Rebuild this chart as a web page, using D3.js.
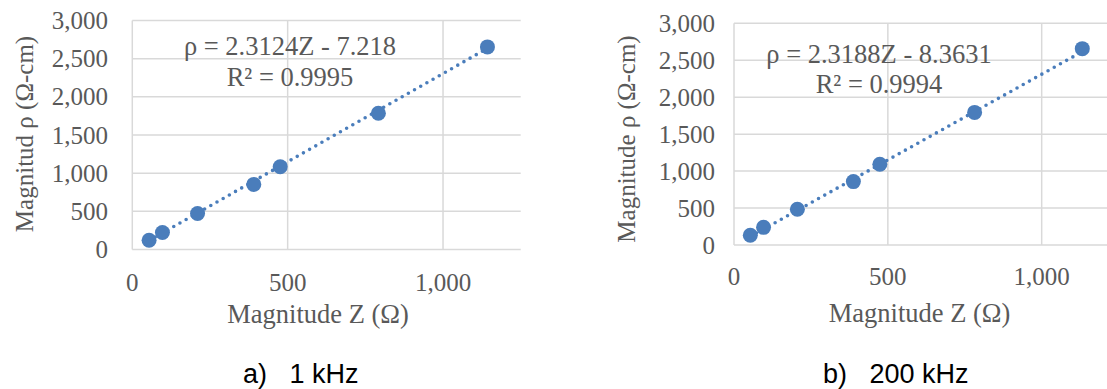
<!DOCTYPE html>
<html>
<head>
<meta charset="utf-8">
<script src="https://cdn.jsdelivr.net/npm/d3@7"></script>
<style>
  html, body { margin: 0; padding: 0; background: #fff; }
  svg { display: block; }
  .serif { font-family: "Times New Roman", "Liberation Serif", serif; fill: #595959; }
  .caption { font-family: Arial, "Liberation Sans", sans-serif; fill: #000; white-space: pre; }
</style>
</head>
<body>
<svg id="chart" width="1107" height="389"></svg>
<script>
// Measured impedance magnitude vs. resistivity magnitude at two frequencies
const zLow = [54, 97, 210, 391, 476, 792, 1143];
const rhoLow = [122, 223, 472, 853, 1085, 1784, 2654];
const zHigh = [53, 96, 206, 388, 474, 782, 1132];
const rhoHigh = [131, 239, 483, 858, 1093, 1794, 2657];

// Linear fits (ρ = slope·Z + intercept)
const fitSlopes = [2.3124, 2.3188];
const fitIntercepts = [-7.218, -8.3631];
const fitLabels = ["ρ = 2.3124Z - 7.218", "ρ = 2.3188Z - 8.3631"];
const r2Labels = ["R² = 0.9995", "R² = 0.9994"];

// Axes
const xDomain = [0, 1250];
const yDomain = [0, 3000];
const xTicks = [0, 500, 1000];
const yTicks = [0, 500, 1000, 1500, 2000, 2500, 3000];
const xTitle = "Magnitude Z (Ω)";
const yTitles = ["Magnitud ρ (Ω-cm)", "Magnitude ρ (Ω-cm)"];
const captions = ["a)   1 kHz", "b)   200 kHz"];

const svg = d3.select("#chart");
const fmt = d3.format(",");
const blue = "#4a7dbb";
const grid = "#d9d9d9";

// Panel layout in pixels
const panels = [
  { z: zLow, rho: rhoLow, x0: 132.3, x1: 520.7, y0: 249.5, y1: 20.5,
    yLabelX: 108, xLabelY: 291, eqX: 290, eqY: [55, 86],
    xTitleX: 318, xTitleY: 323, yTitleX: 33, yTitleY: 134,
    capX: 243, capY: 383 },
  { z: zHigh, rho: rhoHigh, x0: 734, x1: 1118.6, y0: 245, y1: 23.3,
    yLabelX: 715, xLabelY: 285, eqX: 879, eqY: [63.3, 93.3],
    xTitleX: 919.6, xTitleY: 321.7, yTitleX: 635, yTitleY: 139,
    capX: 823, capY: 383 }
];

panels.forEach((p, i) => {
  const x = d3.scaleLinear().domain(xDomain).range([p.x0, p.x1]);
  const y = d3.scaleLinear().domain(yDomain).range([p.y0, p.y1]);
  const g = svg.append("g");

  // Horizontal gridlines
  g.append("g").selectAll("line").data(yTicks).join("line")
    .attr("x1", x(xDomain[0])).attr("x2", x(xDomain[1]))
    .attr("y1", d => y(d)).attr("y2", d => y(d))
    .attr("stroke", grid).attr("stroke-width", 1.5);

  // Vertical gridlines (the one at 0 doubles as the axis line)
  g.append("g").selectAll("line").data(xTicks).join("line")
    .attr("x1", d => x(d)).attr("x2", d => x(d))
    .attr("y1", y(yDomain[0])).attr("y2", y(yDomain[1]))
    .attr("stroke", grid).attr("stroke-width", 1.5);

  // Tick labels
  g.append("g").selectAll("text").data(yTicks).join("text")
    .attr("class", "serif")
    .attr("x", p.yLabelX).attr("y", d => y(d)).attr("dy", "0.34em")
    .attr("text-anchor", "end").attr("font-size", 25)
    .text(d => fmt(d));

  g.append("g").selectAll("text").data(xTicks).join("text")
    .attr("class", "serif")
    .attr("x", d => x(d)).attr("y", p.xLabelY)
    .attr("text-anchor", "middle").attr("font-size", 25)
    .text(d => fmt(d));

  // Dotted linear trendline across the data range
  const zExt = d3.extent(p.z);
  const fitLine = d3.line().x(d => x(d)).y(d => y(fitSlopes[i] * d + fitIntercepts[i]));
  g.append("path")
    .attr("d", fitLine(zExt))
    .attr("fill", "none").attr("stroke", blue)
    .attr("stroke-width", 3.6).attr("stroke-linecap", "round")
    .attr("stroke-dasharray", "0 7.1");

  // Data markers
  g.append("g").selectAll("circle").data(d3.zip(p.z, p.rho)).join("circle")
    .attr("cx", d => x(d[0])).attr("cy", d => y(d[1]))
    .attr("r", 7.5).attr("fill", blue);

  // Fit equation and R²
  g.append("text").attr("class", "serif")
    .attr("x", p.eqX).attr("y", p.eqY[0]).attr("text-anchor", "middle")
    .attr("font-size", 26.5).text(fitLabels[i]);
  g.append("text").attr("class", "serif")
    .attr("x", p.eqX).attr("y", p.eqY[1]).attr("text-anchor", "middle")
    .attr("font-size", 26.5).text(r2Labels[i]);

  // Axis titles
  g.append("text").attr("class", "serif")
    .attr("x", p.xTitleX).attr("y", p.xTitleY).attr("text-anchor", "middle")
    .attr("font-size", 26.5).text(xTitle);
  g.append("text").attr("class", "serif")
    .attr("transform", `translate(${p.yTitleX},${p.yTitleY}) rotate(-90)`)
    .attr("text-anchor", "middle")
    .attr("font-size", 25).text(yTitles[i]);

  // Panel caption
  g.append("text").attr("class", "caption")
    .attr("x", p.capX).attr("y", p.capY)
    .attr("font-size", 27).text(captions[i]);
});
</script>
</body>
</html>
